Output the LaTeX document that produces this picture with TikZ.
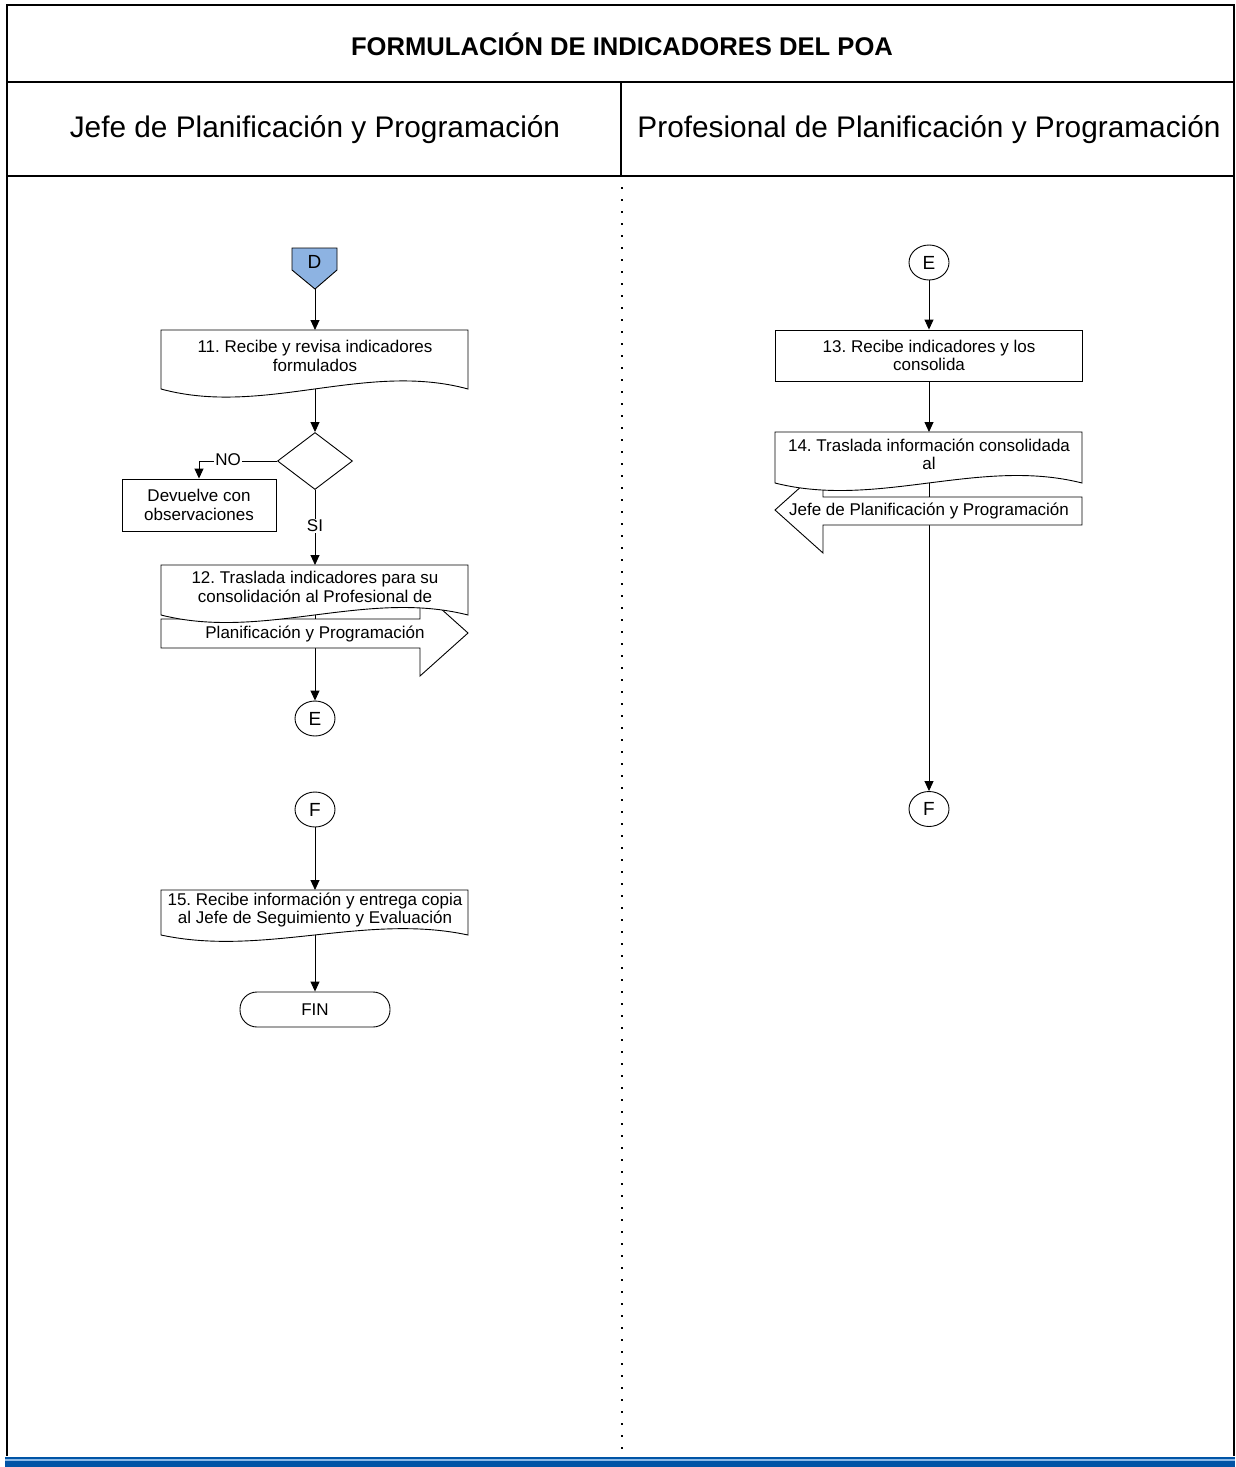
\documentclass[tikz,border=0pt]{standalone}
\usepackage{fontspec}
\setmainfont{Liberation Sans}
\usetikzlibrary{arrows.meta,shapes.geometric}
\definecolor{dblue}{RGB}{0,84,166}
\definecolor{lblue}{RGB}{140,185,230}
\definecolor{dfill}{RGB}{141,179,226}
\frenchspacing
\newcommand\DocPath[5]{%
  \draw[shp] (#1,#3) -- (#2,#3) -- (#2,#4)
    .. controls ({#1+2*(#2-#1)/3},{#4-#5}) and ({#1+(#2-#1)/3},{#4+#5}) .. (#1,#4) -- cycle;}
\begin{document}
\begin{tikzpicture}[x=1pt,y=-1pt,
  frame/.style={line width=2.2pt},
  shp/.style={draw,line width=0.9pt,fill=white},
  conn/.style={line width=0.9pt,-{Triangle[length=10pt,width=9pt]}},
  body/.style={font=\fontsize{17}{18.5}\selectfont,align=center,inner sep=0pt},
  con/.style={ellipse,draw,line width=0.9pt,fill=white,minimum width=40pt,minimum height=35pt,inner sep=0pt,font=\fontsize{19}{20}\selectfont},
  lbl/.style={fill=white,inner sep=1pt,font=\fontsize{17}{18}\selectfont}]
\useasboundingbox (0,0) rectangle (1235,1467);
% frame
\draw[frame] (7,1456) -- (7,5) -- (1234,5) -- (1234,1456);
\draw[frame] (7,82) -- (1234,82);
\draw[frame] (7,176) -- (1234,176);
\draw[frame] (621,82) -- (621,176);
\fill[dblue] (5,1457) rectangle (1235,1467);
\fill[lblue] (5,1459.3) rectangle (1235,1461);
\draw[line width=1.6pt,dash pattern=on 1.6pt off 10.4pt] (622,187) -- (622,1452);
% titles
\node[font=\bfseries\fontsize{25.6}{28}\selectfont] (title) at (622,44) {FORMULACIÓN DE INDICADORES DEL POA};
\node[font=\fontsize{29.8}{34}\selectfont] (lane1) at (315,130) {Jefe de Planificación y Programación};
\node[font=\fontsize{29.8}{34}\selectfont] (lane2) at (929,130) {Profesional de Planificación y Programación};
% ---------- left lane ----------
\draw[shp,fill=dfill] (292,248) -- (337,248) -- (337,270) -- (315,289) -- (292,270) -- cycle;
\node[font=\fontsize{19}{20}\selectfont,inner sep=0pt] (D) at (314.5,262) {D};
\coordinate (Dtip) at (315,289);
\coordinate (d11t) at (315,330);
\coordinate (d11b) at (315,389);
\DocPath{161}{468}{330}{389}{28}
\node[body] (t11) at (315,356) {11. Recibe y revisa indicadores\\formulados};
\draw[conn] (Dtip) -- (d11t);
\node[diamond,draw,line width=0.9pt,fill=white,minimum width=75pt,minimum height=57pt,inner sep=0pt] (dec) at (315,461) {};
\draw[conn] (d11b) -- (dec.north);
\node[draw,line width=0.9pt,minimum width=154pt,minimum height=52pt,body] (dev) at (199,505) {Devuelve con\\observaciones};
\draw[conn] (dec.west) -| (dev.north);
\node[lbl] (no) at (228,460) {NO};
\coordinate (d12t) at (315,565);
\coordinate (d12b) at (315,615);
\draw[conn] (dec.south) -- (d12t);
\node[lbl] (si) at (315,526) {SI};
\node[con] (E1) at (315,718.5) {E};
\draw[conn] (d12b) -- (E1.north);
\draw[shp] (161,619) -- (420,619) -- (420,590) -- (468,633) -- (420,676) -- (420,648) -- (161,648) -- cycle;
\DocPath{161}{468}{565}{615}{26}
\node[body] (t12) at (315,587) {12. Traslada indicadores para su\\consolidación al Profesional de};
\node[body] (t12b) at (315,634) {Planificación y Programación};
\node[con] (F1) at (315,809.5) {F};
\coordinate (d15t) at (315,890);
\coordinate (d15b) at (315,935);
\draw[conn] (F1.south) -- (d15t);
\DocPath{161}{468}{890}{935}{22}
\node[body] (t15) at (315,910) {15. Recibe información y entrega copia\\al Jefe de Seguimiento y Evaluación};
\node[draw,line width=0.9pt,rounded corners=17pt,minimum width=150pt,minimum height=35pt,body] (fin) at (315,1009.5) {FIN};
\draw[conn] (d15b) -- (fin.north);
% ---------- right lane ----------
\node[con] (E2) at (929,262.5) {E};
\node[draw,line width=0.9pt,minimum width=307pt,minimum height=51pt,body] (b13) at (929,355.5) {13. Recibe indicadores y los\\consolida};
\draw[conn] (E2.south) -- (b13.north);
\coordinate (d14t) at (929,432);
\coordinate (d14b) at (929,483);
\draw[conn] (b13.south) -- (d14t);
\node[con] (F2) at (929,809) {F};
\draw[conn] (d14b) -- (F2.north);
\draw[shp] (1082,497) -- (823,497) -- (823,467) -- (775,510) -- (823,553) -- (823,525) -- (1082,525) -- cycle;
\DocPath{775}{1082}{432}{483}{26}
\node[body] (t14) at (929,454.5) {14. Traslada información consolidada\\al};
\node[body] (t14b) at (929,511) {Jefe de Planificación y Programación};
\end{tikzpicture}
\end{document}
